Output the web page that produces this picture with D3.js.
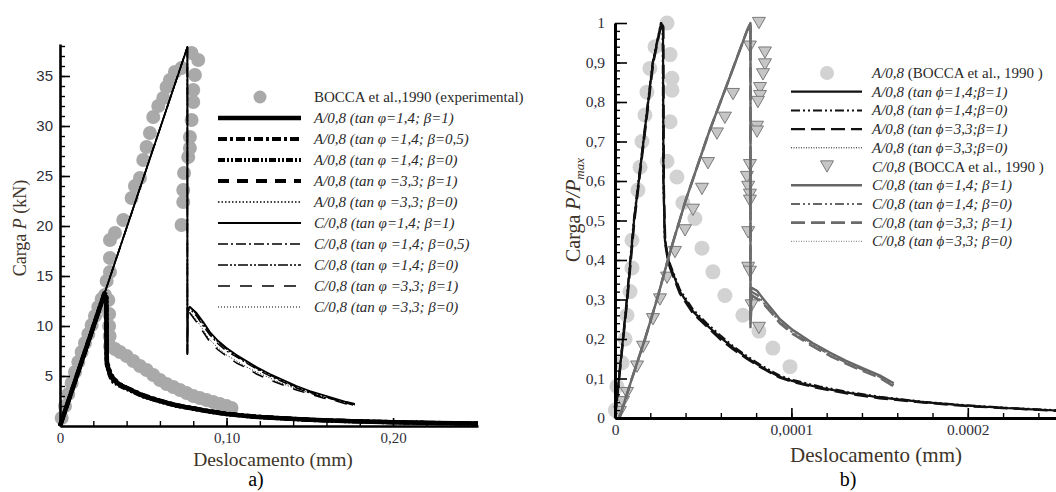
<!DOCTYPE html>
<html>
<head>
<meta charset="utf-8">
<script src="https://cdn.jsdelivr.net/npm/d3@7"></script>
<style>
  html, body { margin: 0; padding: 0; background: #fff; }
  svg { display: block; }
</style>
</head>
<body>
<svg id="chart" width="1056" height="492"></svg>
<script>
// ---- data: chart a) load P (kN) vs displacement (mm)
const lXTicks = [0, 0.1, 0.2];
const lXLabels = ['0', '0,10', '0,20'];
const lYTicks = [5, 10, 15, 20, 25, 30, 35];
const lYLabels = ['5', '10', '15', '20', '25', '30', '35'];

// experimental points (BOCCA et al., 1990)
const lExp = [
  [0.001, 0.8], [0.003, 2.0], [0.005, 3.2], [0.007, 4.3], [0.009, 5.4], [0.011, 6.4], [0.013, 7.4],
  [0.015, 8.3], [0.017, 9.2], [0.019, 10.1], [0.021, 11.0], [0.023, 11.9], [0.025, 12.7], [0.027, 13.1],
  [0.029, 12.6], [0.0295, 11.2], [0.0295, 10.0], [0.0298, 9.0], [0.030, 8.0], [0.033, 7.7], [0.036, 7.4],
  [0.040, 7.0], [0.044, 6.5], [0.048, 6.0], [0.052, 5.6], [0.056, 5.1], [0.060, 4.6], [0.064, 4.2],
  [0.068, 3.9], [0.072, 3.6], [0.076, 3.3], [0.080, 3.0], [0.084, 2.8], [0.088, 2.6], [0.092, 2.4],
  [0.096, 2.2], [0.100, 2.0], [0.103, 1.8],
  [0.028, 14.5], [0.030, 15.4], [0.030, 16.8], [0.030, 18.6], [0.033, 19.3], [0.038, 20.6], [0.043, 22.8],
  [0.045, 24.0], [0.048, 24.8], [0.050, 26.6], [0.052, 27.9], [0.054, 29.3], [0.056, 30.9], [0.059, 32.0],
  [0.062, 32.8], [0.064, 33.9], [0.066, 34.6], [0.069, 35.4], [0.073, 35.8], [0.079, 37.3], [0.083, 36.6],
  [0.081, 35.1], [0.080, 33.6], [0.080, 32.4], [0.079, 30.6], [0.078, 28.9], [0.078, 27.8], [0.077, 26.9],
  [0.0745, 25.3], [0.074, 23.6], [0.074, 22.4], [0.073, 20.1]
];

// numerical results, specimen A/0,8
const lA14b1 = [[0, 0], [0.0264, 13.1], [0.0278, 12.9], [0.0281, 6.2], [0.030, 5.2], [0.032, 4.6], [0.036, 4.1],
  [0.040, 3.8], [0.050, 3.0], [0.060, 2.5], [0.070, 2.05], [0.080, 1.75], [0.090, 1.45], [0.100, 1.2],
  [0.115, 0.95], [0.130, 0.8], [0.150, 0.62], [0.175, 0.48], [0.200, 0.38], [0.225, 0.3], [0.251, 0.24]];
const lA14b05 = [[0, 0], [0.0262, 12.9], [0.0276, 12.7], [0.0279, 6.6], [0.030, 5.5], [0.032, 4.8], [0.036, 4.2],
  [0.040, 3.85], [0.050, 3.1], [0.060, 2.55], [0.070, 2.1], [0.080, 1.8], [0.090, 1.5], [0.100, 1.25],
  [0.115, 1.0], [0.130, 0.82], [0.150, 0.64], [0.175, 0.5], [0.200, 0.4], [0.225, 0.32], [0.251, 0.26]];
const lA14b0 = [[0, 0], [0.0266, 13.3], [0.0280, 13.1], [0.0283, 6.0], [0.030, 5.0], [0.032, 4.4], [0.036, 4.0],
  [0.040, 3.7], [0.050, 2.95], [0.060, 2.45], [0.070, 2.0], [0.080, 1.7], [0.090, 1.42], [0.100, 1.18],
  [0.115, 0.93], [0.130, 0.78], [0.150, 0.6], [0.175, 0.46], [0.200, 0.36], [0.225, 0.29], [0.251, 0.22]];
const lA33b1 = [[0, 0], [0.0263, 13.0], [0.0277, 12.8], [0.0280, 6.4], [0.030, 5.3], [0.032, 4.7], [0.036, 4.15],
  [0.040, 3.8], [0.050, 3.05], [0.060, 2.5], [0.070, 2.08], [0.080, 1.77], [0.090, 1.47], [0.100, 1.22],
  [0.115, 0.97], [0.130, 0.8], [0.150, 0.63], [0.175, 0.49], [0.200, 0.39], [0.225, 0.31], [0.251, 0.25]];
const lA33b0 = [[0, 0], [0.0265, 13.2], [0.0279, 13.0], [0.0282, 6.1], [0.030, 5.1], [0.032, 4.5], [0.036, 4.05],
  [0.040, 3.75], [0.050, 3.0], [0.060, 2.48], [0.070, 2.02], [0.080, 1.72], [0.090, 1.44], [0.100, 1.19],
  [0.115, 0.94], [0.130, 0.79], [0.150, 0.61], [0.175, 0.47], [0.200, 0.37], [0.225, 0.29], [0.251, 0.23]];

// numerical results, specimen C/0,8
const lC14b1 = [[0, 0], [0.0765, 37.9], [0.0765, 7.2], [0.0767, 11.6], [0.078, 11.9], [0.082, 11.3], [0.086, 10.4],
  [0.090, 9.4], [0.095, 8.5], [0.100, 7.8], [0.106, 7.1], [0.112, 6.5], [0.118, 5.9], [0.126, 5.2], [0.134, 4.6],
  [0.142, 4.0], [0.150, 3.5], [0.158, 3.1], [0.166, 2.7], [0.172, 2.4], [0.177, 2.2]];
const lC14b05 = [[0, 0], [0.0765, 37.9], [0.0765, 7.4], [0.0767, 11.4], [0.078, 11.7], [0.082, 11.0], [0.086, 10.0],
  [0.090, 9.1], [0.095, 8.2], [0.100, 7.5], [0.106, 6.9], [0.112, 6.3], [0.118, 5.7], [0.126, 5.0], [0.134, 4.4],
  [0.142, 3.8], [0.150, 3.3], [0.158, 2.9], [0.166, 2.6], [0.172, 2.3], [0.176, 2.1]];
const lC14b0 = [[0, 0], [0.0765, 37.9], [0.0765, 7.3], [0.0767, 11.8], [0.078, 11.9], [0.082, 11.2], [0.086, 10.2],
  [0.090, 9.3], [0.095, 8.4], [0.100, 7.7], [0.106, 7.0], [0.112, 6.4], [0.118, 5.8], [0.126, 5.1], [0.134, 4.5],
  [0.142, 3.9], [0.150, 3.4], [0.158, 3.0], [0.166, 2.6], [0.172, 2.35], [0.177, 2.15]];
const lC33b1 = [[0, 0], [0.0765, 37.9], [0.0765, 7.2], [0.0767, 11.0], [0.078, 11.3], [0.082, 10.4], [0.086, 9.4],
  [0.090, 8.4], [0.095, 7.6], [0.100, 7.0], [0.106, 6.3], [0.112, 5.8], [0.118, 5.2], [0.126, 4.6], [0.134, 4.1],
  [0.142, 3.6], [0.150, 3.2], [0.158, 2.8], [0.166, 2.5], [0.172, 2.2], [0.176, 2.0]];
const lC33b0 = [[0, 0], [0.0765, 37.9], [0.0765, 7.3], [0.0767, 11.1], [0.078, 11.4], [0.082, 10.6], [0.086, 9.6],
  [0.090, 8.6], [0.095, 7.8], [0.100, 7.1], [0.106, 6.5], [0.112, 5.9], [0.118, 5.4], [0.126, 4.8], [0.134, 4.2],
  [0.142, 3.7], [0.150, 3.3], [0.158, 2.9], [0.166, 2.55], [0.172, 2.3], [0.177, 2.1]];

const lLegendLabels = [
  'BOCCA et al.,1990 (experimental)',
  'A/0,8 (tan \u03C6=1,4; \u03B2=1)',
  'A/0,8 (tan \u03C6 =1,4; \u03B2=0,5)',
  'A/0,8 (tan \u03C6 =1,4; \u03B2=0)',
  'A/0,8 (tan \u03C6 =3,3; \u03B2=1)',
  'A/0,8 (tan \u03C6 =3,3; \u03B2=0)',
  'C/0,8 (tan \u03C6=1,4; \u03B2=1)',
  'C/0,8 (tan \u03C6 =1,4; \u03B2=0,5)',
  'C/0,8 (tan \u03C6 =1,4; \u03B2=0)',
  'C/0,8 (tan \u03C6 =3,3; \u03B2=1)',
  'C/0,8 (tan \u03C6 =3,3; \u03B2=0)'
];

// ---- data: chart b) normalised load P/Pmax vs displacement (mm)
const rXTicks = [0, 0.0001, 0.0002];
const rXLabels = ['0', '0,0001', '0.0002'];
const rYTicks = [0, 0.1, 0.2, 0.3, 0.4, 0.5, 0.6, 0.7, 0.8, 0.9, 1];
const rYLabels = ['0', '0,1', '0,2', '0,3', '0,4', '0,5', '0,6', '0,7', '0,8', '0,9', '1'];

const rExpA = [
  [0.0000002, 0.02], [0.0000011, 0.08], [0.000004, 0.14], [0.0000057, 0.20], [0.0000068, 0.26], [0.0000085, 0.32],
  [0.0000096, 0.38], [0.0000096, 0.45], [0.000013, 0.577], [0.0000142, 0.635], [0.0000153, 0.70], [0.000017, 0.767],
  [0.0000181, 0.825], [0.0000198, 0.885], [0.0000227, 0.94], [0.0000295, 1.0], [0.0000312, 0.92], [0.0000323, 0.86],
  [0.0000323, 0.83], [0.0000312, 0.75], [0.0000295, 0.65], [0.0000351, 0.61], [0.0000385, 0.545], [0.0000453, 0.505],
  [0.0000493, 0.43], [0.0000555, 0.37], [0.0000623, 0.31], [0.0000725, 0.26], [0.0000816, 0.22], [0.0000895, 0.177],
  [0.0000992, 0.13]
];
const rExpC = [
  [0.0000028, 0.015], [0.0000045, 0.04], [0.0000068, 0.063], [0.0000125, 0.13], [0.0000159, 0.18], [0.0000215, 0.25],
  [0.0000255, 0.30], [0.0000295, 0.355], [0.000034, 0.42], [0.0000397, 0.475], [0.0000442, 0.527], [0.0000493, 0.58],
  [0.0000527, 0.645], [0.0000578, 0.72], [0.0000623, 0.76], [0.0000669, 0.82], [0.0000816, 1.0], [0.0000765, 0.94],
  [0.000085, 0.925], [0.000085, 0.895], [0.0000839, 0.87], [0.0000822, 0.835], [0.0000822, 0.815], [0.000081, 0.80],
  [0.0000805, 0.737], [0.0000805, 0.725], [0.0000765, 0.64], [0.0000748, 0.61], [0.0000755, 0.585], [0.0000765, 0.565],
  [0.0000765, 0.55], [0.0000755, 0.47], [0.0000755, 0.38], [0.0000765, 0.37], [0.0000775, 0.285], [0.0000816, 0.228]
];

const rA14b1 = [[0, 0], [0.0000068, 0.3], [0.0000108, 0.5], [0.0000215, 0.9], [0.0000262, 1.0], [0.0000272, 0.99],
  [0.0000275, 0.6], [0.0000283, 0.45], [0.000030, 0.405], [0.0000312, 0.385], [0.0000368, 0.32], [0.0000442, 0.27],
  [0.000052, 0.235], [0.0000595, 0.205], [0.000067, 0.178], [0.0000748, 0.153], [0.000082, 0.132], [0.0000895, 0.113],
  [0.0000935, 0.104], [0.000101, 0.093], [0.000116, 0.077], [0.000132, 0.064], [0.00015, 0.052], [0.000175, 0.04],
  [0.0002, 0.031], [0.000226, 0.024], [0.00025, 0.019]];
const rA14b0 = [[0, 0], [0.0000066, 0.3], [0.0000106, 0.5], [0.0000213, 0.9], [0.000026, 1.0], [0.000027, 0.98],
  [0.0000273, 0.62], [0.0000281, 0.46], [0.000030, 0.41], [0.0000312, 0.39], [0.0000368, 0.325], [0.0000442, 0.275],
  [0.000052, 0.24], [0.0000595, 0.21], [0.000067, 0.182], [0.0000748, 0.157], [0.000082, 0.136], [0.0000895, 0.117],
  [0.0000935, 0.107], [0.000101, 0.096], [0.000116, 0.08], [0.000132, 0.066], [0.00015, 0.054], [0.000175, 0.041],
  [0.0002, 0.032], [0.000226, 0.025], [0.00025, 0.02]];
const rA33b1 = [[0, 0], [0.000007, 0.3], [0.000011, 0.5], [0.0000217, 0.9], [0.0000264, 1.0], [0.0000274, 0.99],
  [0.0000277, 0.58], [0.0000285, 0.44], [0.000030, 0.4], [0.0000312, 0.38], [0.0000368, 0.315], [0.0000442, 0.265],
  [0.000052, 0.232], [0.0000595, 0.2], [0.000067, 0.174], [0.0000748, 0.15], [0.000082, 0.13], [0.0000895, 0.111],
  [0.0000935, 0.102], [0.000101, 0.091], [0.000116, 0.075], [0.000132, 0.062], [0.00015, 0.05], [0.000175, 0.039],
  [0.0002, 0.03], [0.000226, 0.024], [0.00025, 0.018]];
const rA33b0 = [[0, 0], [0.0000067, 0.3], [0.0000107, 0.5], [0.0000214, 0.9], [0.0000261, 1.0], [0.0000271, 0.99],
  [0.0000274, 0.6], [0.0000282, 0.45], [0.000030, 0.4], [0.0000312, 0.383], [0.0000368, 0.318], [0.0000442, 0.268],
  [0.000052, 0.233], [0.0000595, 0.203], [0.000067, 0.176], [0.0000748, 0.151], [0.000082, 0.131], [0.0000895, 0.112],
  [0.0000935, 0.103], [0.000101, 0.092], [0.000116, 0.076], [0.000132, 0.063], [0.00015, 0.051], [0.000175, 0.039],
  [0.0002, 0.031], [0.000226, 0.024], [0.00025, 0.019]];

const rC14b1 = [[0.0000025, 0], [0.0000096, 0.1], [0.000017, 0.2], [0.0000238, 0.3], [0.0000312, 0.42], [0.00004, 0.55],
  [0.000053, 0.72], [0.000064, 0.85], [0.0000748, 0.98], [0.0000768, 1.0], [0.0000768, 0.23], [0.0000772, 0.33],
  [0.0000805, 0.322], [0.000085, 0.296], [0.0000895, 0.272], [0.0000935, 0.25], [0.000101, 0.222], [0.000112, 0.19],
  [0.000122, 0.165], [0.000131, 0.145], [0.00014, 0.127], [0.00015, 0.108], [0.000158, 0.088]];
const rC14b0 = [[0.0000025, 0], [0.0000096, 0.1], [0.000017, 0.2], [0.0000238, 0.3], [0.0000312, 0.42], [0.00004, 0.55],
  [0.000053, 0.72], [0.000064, 0.85], [0.0000748, 0.98], [0.0000768, 1.0], [0.0000768, 0.24], [0.0000774, 0.32],
  [0.0000805, 0.312], [0.000085, 0.288], [0.0000895, 0.264], [0.0000935, 0.243], [0.000101, 0.215], [0.000112, 0.185],
  [0.000122, 0.16], [0.000131, 0.14], [0.00014, 0.123], [0.00015, 0.104], [0.000158, 0.084]];
const rC33b1 = [[0.0000025, 0], [0.0000096, 0.1], [0.000017, 0.2], [0.0000238, 0.3], [0.0000312, 0.42], [0.00004, 0.55],
  [0.000053, 0.72], [0.000064, 0.85], [0.0000748, 0.98], [0.0000768, 1.0], [0.0000768, 0.24], [0.0000776, 0.31],
  [0.000082, 0.298], [0.000085, 0.285], [0.0000895, 0.262], [0.0000935, 0.24], [0.000101, 0.212], [0.000112, 0.182],
  [0.000122, 0.157], [0.000131, 0.138], [0.00014, 0.12], [0.00015, 0.102], [0.000158, 0.08]];
const rC33b0 = [[0.0000025, 0], [0.0000096, 0.1], [0.000017, 0.2], [0.0000238, 0.3], [0.0000312, 0.42], [0.00004, 0.55],
  [0.000053, 0.72], [0.000064, 0.85], [0.0000748, 0.98], [0.0000768, 1.0], [0.0000768, 0.24], [0.0000775, 0.315],
  [0.000082, 0.302], [0.000085, 0.288], [0.0000895, 0.266], [0.0000935, 0.244], [0.000101, 0.216], [0.000112, 0.186],
  [0.000122, 0.16], [0.000131, 0.141], [0.00014, 0.123], [0.00015, 0.104], [0.000158, 0.082]];

const rLegendLabels = [
  'A/0,8| (BOCCA et al., 1990 )',
  'A/0,8 (tan \u03D5=1,4;\u03B2=1)',
  'A/0,8 (tan \u03D5=1,4;\u03B2=0)',
  'A/0,8 (tan \u03D5=3,3;\u03B2=1)',
  'A/0,8 (tan \u03D5=3,3;\u03B2=0)',
  'C/0,8| (BOCCA et al., 1990 )',
  'C/0,8 (tan \u03D5=1,4; \u03B2=1)',
  'C/0,8 (tan \u03D5=1,4; \u03B2=0)',
  'C/0,8 (tan \u03D5=3,3; \u03B2=1)',
  'C/0,8 (tan \u03D5=3,3; \u03B2=0)'
];

// ---- styles
const SERIF = "'Liberation Serif', 'Times New Roman', serif";
const SANS = "'Liberation Sans', Arial, sans-serif";
const TICK_COLOR = '#2f2f3a';
const TITLE_COLOR = '#3d3328';

const lStyles = [
  { data: lA14b1, color: '#000', width: 4.5, dash: null },
  { data: lA14b05, color: '#000', width: 4, dash: '9,3,3,3' },
  { data: lA14b0, color: '#000', width: 4, dash: '7,2,2,2,2,2' },
  { data: lA33b1, color: '#000', width: 4, dash: '11,8' },
  { data: lA33b0, color: '#000', width: 1.4, dash: '1.5,2' },
  { data: lC14b1, color: '#000', width: 1.8, dash: null },
  { data: lC14b05, color: '#000', width: 1.4, dash: '10,3,2,3' },
  { data: lC14b0, color: '#000', width: 1.6, dash: '10,2,2,2,2,2' },
  { data: lC33b1, color: '#000', width: 1.5, dash: '12,10' },
  { data: lC33b0, color: '#000', width: 1, dash: '1,2' }
];
const rStyles = [
  { data: rA14b1, color: '#111', width: 2.2, dash: null },
  { data: rA14b0, color: '#111', width: 2, dash: '9,3,2,3,2,3' },
  { data: rA33b1, color: '#111', width: 2.4, dash: '14,6' },
  { data: rA33b0, color: '#111', width: 1, dash: '1,1.5' },
  { data: rC14b1, color: '#666', width: 2.4, dash: null },
  { data: rC14b0, color: '#666', width: 2, dash: '9,3,2,3,2,3' },
  { data: rC33b1, color: '#6a6a6a', width: 2.6, dash: '14,6' },
  { data: rC33b0, color: '#777', width: 1, dash: '1,1.5' }
];

const svg = d3.select('#chart');

// ---- scales
const lx = d3.scaleLinear().domain([0, 0.251]).range([60, 478]);
const ly = d3.scaleLinear().domain([0, 38.2]).range([426, 44]);
const rx = d3.scaleLinear().domain([0, 0.00025]).range([615, 1056]);
const ry = d3.scaleLinear().domain([0, 1]).range([418, 23]);

function styleAxis(g, width, font, size) {
  g.select('.domain').attr('stroke', '#000').attr('stroke-width', width);
  g.selectAll('.tick line').attr('stroke', '#000').attr('stroke-width', 1.6);
  g.selectAll('text').attr('font-family', font).attr('font-size', size).attr('fill', TICK_COLOR);
}

function drawAxes(x, y, o) {
  const [x0] = x.range();
  const [y0] = y.range();
  // minor ticks first, majors on top
  svg.append('g')
    .attr('transform', `translate(0,${y0})`)
    .call(d3.axisBottom(x).tickValues(o.xMinor).tickSize(-5).tickFormat(''))
    .call(g => { g.select('.domain').remove(); g.selectAll('line').attr('stroke', '#000').attr('stroke-width', 1.4); });
  svg.append('g')
    .attr('transform', `translate(${x0},0)`)
    .call(d3.axisLeft(y).tickValues(o.yMinor).tickSize(-5).tickFormat(''))
    .call(g => { g.select('.domain').remove(); g.selectAll('line').attr('stroke', '#000').attr('stroke-width', 1.4); });

  svg.append('g')
    .attr('transform', `translate(0,${y0})`)
    .call(d3.axisBottom(x).tickValues(o.xTicks).tickFormat((d, i) => o.xLabels[i])
      .tickSizeInner(-o.xMajor).tickSizeOuter(0).tickPadding(o.xPad))
    .call(g => styleAxis(g, o.axisWidth, o.xFont, o.fontSize));
  svg.append('g')
    .attr('transform', `translate(${x0},0)`)
    .call(d3.axisLeft(y).tickValues(o.yTicks).tickFormat((d, i) => o.yLabels[i])
      .tickSizeInner(-o.yMajor).tickSizeOuter(0).tickPadding(o.yPad))
    .call(g => styleAxis(g, o.axisWidth, o.yFont, o.fontSize));
}

function drawLines(x, y, styles) {
  const line = d3.line().x(d => x(d[0])).y(d => y(d[1]));
  svg.append('g').selectAll('path')
    .data(styles)
    .join('path')
    .attr('d', s => line(s.data))
    .attr('fill', 'none')
    .attr('stroke', s => s.color)
    .attr('stroke-width', s => s.width)
    .attr('stroke-dasharray', s => s.dash)
    .attr('stroke-linejoin', 'round');
}

function triangle(cx, cy, s) {
  const h = s * 0.87;
  return `M${cx - s / 2},${cy - h / 2}L${cx + s / 2},${cy - h / 2}L${cx},${cy + h / 2}Z`;
}

// ================= chart a)
svg.append('g').selectAll('circle')
  .data(lExp)
  .join('circle')
  .attr('cx', d => lx(d[0]))
  .attr('cy', d => ly(d[1]))
  .attr('r', 7)
  .attr('fill', '#a9a9a9');

drawLines(lx, ly, lStyles);

drawAxes(lx, ly, {
  xTicks: lXTicks, xLabels: lXLabels, yTicks: lYTicks, yLabels: lYLabels,
  xMinor: d3.range(0.02, 0.25, 0.02), yMinor: d3.range(1, 39, 1),
  xMajor: 8, yMajor: 10, xPad: 6, yPad: 7, axisWidth: 2.6,
  xFont: SERIF, yFont: SANS, fontSize: 15
});

// legend a)
const lLeg = svg.append('g');
lLegendLabels.forEach((label, i) => {
  const yy = 97 + i * 21;
  if (i === 0) {
    lLeg.append('circle').attr('cx', 260).attr('cy', yy).attr('r', 6.5).attr('fill', '#a9a9a9');
  } else {
    const s = lStyles[i - 1];
    lLeg.append('line')
      .attr('x1', 218).attr('x2', 301).attr('y1', yy).attr('y2', yy)
      .attr('stroke', s.color).attr('stroke-width', s.width).attr('stroke-dasharray', s.dash);
  }
  lLeg.append('text')
    .attr('x', 314).attr('y', yy + 5)
    .attr('font-family', SERIF).attr('font-size', 15)
    .attr('font-style', i === 0 ? 'normal' : 'italic')
    .attr('fill', '#2a2a2a')
    .text(label);
});

// axis titles a)
svg.append('text')
  .attr('x', 273).attr('y', 466)
  .attr('text-anchor', 'middle')
  .attr('font-family', SERIF).attr('font-size', 19.5).attr('fill', TITLE_COLOR)
  .text('Deslocamento (mm)');
const lYTitle = svg.append('text')
  .attr('transform', 'translate(26,228) rotate(-90)')
  .attr('text-anchor', 'middle')
  .attr('font-family', SERIF).attr('font-size', 18).attr('fill', TITLE_COLOR);
lYTitle.append('tspan').text('Carga ');
lYTitle.append('tspan').attr('font-style', 'italic').text('P');
lYTitle.append('tspan').text(' (kN)');
svg.append('text')
  .attr('x', 256).attr('y', 486)
  .attr('text-anchor', 'middle')
  .attr('font-family', SERIF).attr('font-size', 20).attr('fill', '#000')
  .text('a)');

// ================= chart b)
svg.append('g').selectAll('circle')
  .data(rExpA)
  .join('circle')
  .attr('cx', d => rx(d[0]))
  .attr('cy', d => ry(d[1]))
  .attr('r', 7.5)
  .attr('fill', '#d2d2d2');

svg.append('g').selectAll('path')
  .data(rExpC)
  .join('path')
  .attr('d', d => triangle(rx(d[0]), ry(d[1]), 13))
  .attr('fill', '#c6c6c6')
  .attr('stroke', '#7a7a7a')
  .attr('stroke-width', 1);

drawLines(rx, ry, rStyles);

drawAxes(rx, ry, {
  xTicks: rXTicks, xLabels: rXLabels, yTicks: rYTicks, yLabels: rYLabels,
  xMinor: d3.range(0.00002, 0.00025, 0.00002), yMinor: d3.range(0.02, 1, 0.02),
  xMajor: 10, yMajor: 12, xPad: 6, yPad: 10, axisWidth: 3,
  xFont: SERIF, yFont: SERIF, fontSize: 15.5
});

// legend b)
const rLeg = svg.append('g');
const rLegStyle = [null, rStyles[0], rStyles[1], rStyles[2], rStyles[3], null, rStyles[4], rStyles[5], rStyles[6], rStyles[7]];
rLegendLabels.forEach((label, i) => {
  const yy = 73 + i * 18.7;
  const s = rLegStyle[i];
  if (i === 0) {
    rLeg.append('circle').attr('cx', 827).attr('cy', yy).attr('r', 7).attr('fill', '#d2d2d2');
  } else if (i === 5) {
    rLeg.append('path').attr('d', triangle(827, yy, 13))
      .attr('fill', '#c6c6c6').attr('stroke', '#7a7a7a').attr('stroke-width', 1);
  } else {
    rLeg.append('line')
      .attr('x1', 791).attr('x2', 862).attr('y1', yy).attr('y2', yy)
      .attr('stroke', s.color).attr('stroke-width', s.width).attr('stroke-dasharray', s.dash);
  }
  const t = rLeg.append('text')
    .attr('x', 872).attr('y', yy + 5)
    .attr('font-family', SERIF).attr('font-size', 15)
    .attr('fill', '#2a2a2a');
  const parts = label.split('|');
  t.append('tspan').attr('font-style', 'italic').text(parts[0]);
  if (parts[1]) t.append('tspan').text(parts[1]);
});

// axis titles b)
svg.append('text')
  .attr('x', 876).attr('y', 462)
  .attr('text-anchor', 'middle')
  .attr('font-family', SERIF).attr('font-size', 21).attr('fill', TITLE_COLOR)
  .text('Deslocamento (mm)');
const rYTitle = svg.append('text')
  .attr('transform', 'translate(580,210) rotate(-90)')
  .attr('text-anchor', 'middle')
  .attr('font-family', SERIF).attr('font-size', 20).attr('fill', TITLE_COLOR);
rYTitle.append('tspan').text('Carga ');
rYTitle.append('tspan').attr('font-style', 'italic').text('P/P');
rYTitle.append('tspan').attr('font-style', 'italic').attr('font-size', 13).attr('dy', 4).text('max');
svg.append('text')
  .attr('x', 848).attr('y', 486)
  .attr('text-anchor', 'middle')
  .attr('font-family', SERIF).attr('font-size', 20).attr('fill', '#000')
  .text('b)');
</script>
</body>
</html>
